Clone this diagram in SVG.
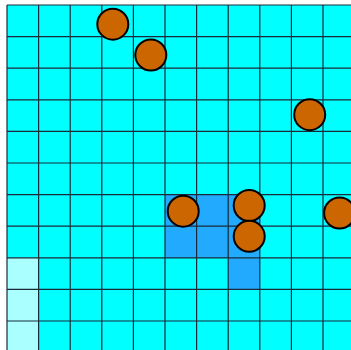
<svg xmlns="http://www.w3.org/2000/svg" width="351" height="350" viewBox="0 0 351 350">
<style>
.bg{fill:#00ffff}
.pale{fill:#aaffff}
.blue{fill:#22aaff}
.grid{stroke:#1a2a3a;stroke-width:1.2;fill:none}
.ball{fill:#cc6600;stroke:#000;stroke-width:2}
</style>
<rect width="351" height="350" fill="#fff"/>
<g id="cells">
<rect class="bg" x="7" y="5" width="344" height="345"/>
<rect class="pale" x="7" y="257.8" width="31.6" height="92.2"/>
<rect class="blue" x="165" y="194.6" width="94.8" height="63.2"/>
<rect class="blue" x="228.2" y="257.8" width="31.6" height="31.6"/>
</g>
<g id="grid" class="grid">
<path d="M7 5V350M38.6 5V350M70.2 5V350M101.8 5V350M133.4 5V350M165 5V350M196.6 5V350M228.2 5V350M259.8 5V350M291.4 5V350M323 5V350"/>
<path d="M7 5H351M7 36.6H351M7 68.2H351M7 99.8H351M7 131.4H351M7 163H351M7 194.6H351M7 226.2H351M7 257.8H351M7 289.4H351M7 321H351"/>
</g>
<g id="ball1"><circle class="ball" cx="112.8" cy="24.2" r="15.5"/></g>
<g id="ball2"><circle class="ball" cx="150.8" cy="55" r="15.5"/></g>
<g id="ball3"><circle class="ball" cx="309.7" cy="114.7" r="15.5"/></g>
<g id="ball4"><circle class="ball" cx="183.2" cy="211.2" r="15.5"/></g>
<g id="ball5"><circle class="ball" cx="249.2" cy="205.5" r="15.5"/></g>
<g id="ball6"><circle class="ball" cx="249.2" cy="236.3" r="15.5"/></g>
<g id="ball7"><circle class="ball" cx="339.6" cy="213" r="15.5"/></g>
</svg>
